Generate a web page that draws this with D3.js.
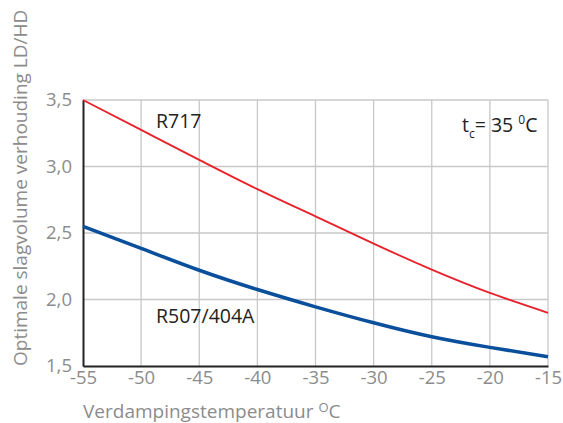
<!DOCTYPE html>
<html>
<head>
<meta charset="utf-8">
<script src="https://cdn.jsdelivr.net/npm/d3@7"></script>
<style>
  body { margin: 0; background: #fff; }
  svg text { font-family: "Open Sans", "Noto Sans", sans-serif; }
</style>
</head>
<body>
<svg id="chart" width="563" height="423"></svg>
<script>
// evaporating temperature (°C) and the two curves
const temps = [-55, -50, -45, -40, -35, -30, -25, -20, -15]
const r717 = [3.50, 3.275, 3.05, 2.83, 2.625, 2.42, 2.225, 2.05, 1.90]
const r507 = [2.55, 2.385, 2.22, 2.075, 1.945, 1.825, 1.72, 1.64, 1.57]
const yTicks = [1.5, 2.0, 2.5, 3.0, 3.5]

const svg = d3.select('#chart')
const margin = {top: 100, left: 83, bottom: 57, right: 15}
const width = +svg.attr('width')
const height = +svg.attr('height')
const innerW = width - margin.left - margin.right
const innerH = height - margin.top - margin.bottom

const x = d3.scaleLinear().domain([-55, -15]).range([0, innerW])
const y = d3.scaleLinear().domain([1.5, 3.5]).range([innerH, 0])

const g = svg.append('g')
  .attr('transform', `translate(${margin.left},${margin.top})`)

// grid
g.append('g')
  .selectAll('line')
  .data(temps.slice(1))
  .enter().append('line')
  .attr('x1', d => x(d)).attr('x2', d => x(d))
  .attr('y1', 0).attr('y2', innerH)
  .attr('stroke', '#c8c8c8').attr('stroke-width', 1.3)
g.append('g')
  .selectAll('line')
  .data(yTicks.slice(1))
  .enter().append('line')
  .attr('x1', 0).attr('x2', innerW)
  .attr('y1', d => y(d)).attr('y2', d => y(d))
  .attr('stroke', '#c8c8c8').attr('stroke-width', 1.3)

// axes
const xAxis = g.append('g')
  .attr('transform', `translate(0,${innerH})`)
  .call(d3.axisBottom(x).tickValues(temps).tickSize(0).tickPadding(5))
xAxis.select('.domain').attr('stroke', '#222').attr('stroke-width', 2)
xAxis.selectAll('text')
  .attr('fill', '#8c8c8c').attr('font-size', 18.5)
  .text(d => d)

const yAxis = g.append('g')
  .call(d3.axisLeft(y).tickValues(yTicks).tickSize(0).tickPadding(11))
yAxis.select('.domain').attr('stroke', '#222').attr('stroke-width', 2)
yAxis.selectAll('text')
  .attr('fill', '#8c8c8c').attr('font-size', 18.5)
  .text(d => d3.format('.1f')(d).replace('.', ','))

// curves
const line = d3.line()
  .x((d, i) => x(temps[i]))
  .y(d => y(d))
  .curve(d3.curveNatural)

g.append('path').datum(r717)
  .attr('d', line)
  .attr('fill', 'none').attr('stroke', '#e8222b').attr('stroke-width', 1.8)
g.append('path').datum(r507)
  .attr('d', line)
  .attr('fill', 'none').attr('stroke', '#0a4f9c').attr('stroke-width', 3.5)

// labels
svg.append('text').attr('x', 156).attr('y', 128)
  .attr('font-size', 19.5).attr('fill', '#222').text('R717')
svg.append('text').attr('x', 156).attr('y', 323)
  .attr('font-size', 19.5).attr('fill', '#222').text('R507/404A')

const tc = svg.append('text').attr('x', 462).attr('y', 132)
  .attr('font-size', 19.5).attr('fill', '#222')
tc.append('tspan').text('t')
tc.append('tspan').attr('font-size', 12).attr('dy', 6).text('c')
tc.append('tspan').attr('dy', -6).text('= 35 ')
tc.append('tspan').attr('font-size', 12).attr('dy', -8).text('0')
tc.append('tspan').attr('dy', 8).text('C')

const xt = svg.append('text').attr('x', 83).attr('y', 418)
  .attr('font-size', 19).attr('fill', '#8c8c8c')
xt.append('tspan').text('Verdampingstemperatuur ')
xt.append('tspan').attr('font-size', 13).attr('dy', -6).text('O')
xt.append('tspan').attr('dy', 6).text('C')

svg.append('text')
  .attr('transform', 'translate(27,366) rotate(-90)')
  .attr('font-size', 19).attr('fill', '#8c8c8c')
  .text('Optimale slagvolume verhouding LD/HD')
</script>
</body>
</html>
